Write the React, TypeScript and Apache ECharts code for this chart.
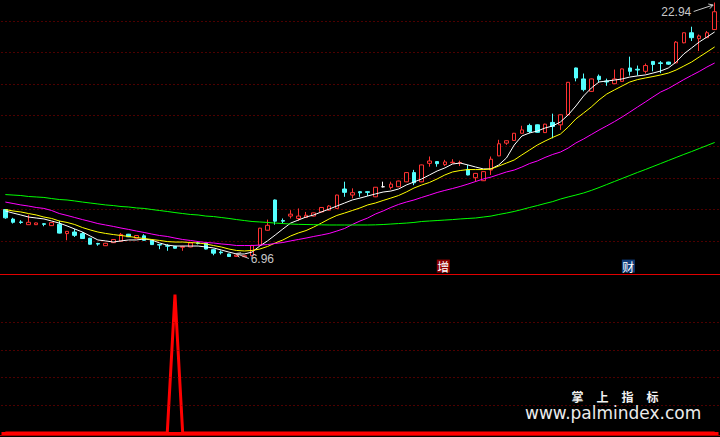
import React, { useEffect, useRef } from "react";
import * as echarts from "echarts";

// ---- daily OHLC (93 trading days) ----
const opens = [
  9.94, 9.34, 9.16, 8.99, 8.99, 9.05, 8.93, 9.02, 8.43, 8.53,
  8.43, 8.14, 7.81, 7.67, 7.86, 7.95, 8.39, 8.14, 8.29, 8.01,
  7.74, 7.67, 7.63, 7.57, 7.59, 7.85, 7.84, 7.42, 7.27, 7.15,
  7.0, 6.98, 7.04, 7.7, 8.64, 10.54, 9.25, 9.53, 9.38, 9.44,
  9.53, 9.79, 9.9, 10.01, 11.23, 10.85, 11.06, 11.06, 10.74, 11.37,
  11.33, 11.37, 11.68, 12.26, 11.68, 12.84, 12.95, 12.76, 12.88, 12.87,
  12.46, 11.94, 11.75, 12.42, 13.31, 14.11, 14.28, 14.73, 15.22, 15.26,
  14.77, 15.41, 15.26, 15.89, 18.83, 18.14, 17.36, 18.31, 18.01, 17.84,
  17.99, 18.83, 18.75, 18.62, 19.24, 19.15, 19.2, 19.15, 20.41, 21.04,
  20.67, 20.73, 21.24,
];
const closes = [
  9.42, 9.14, 9.13, 9.14, 9.1, 9.01, 9.12, 8.46, 8.57, 8.32,
  8.12, 7.76, 7.77, 7.82, 8.06, 8.38, 8.23, 8.31, 8.01, 7.74,
  7.71, 7.64, 7.51, 7.61, 7.84, 7.81, 7.46, 7.2, 7.23, 6.99,
  7.08, 7.04, 7.69, 8.77, 8.95, 9.21, 9.21, 9.65, 9.53, 9.58,
  9.73, 10.07, 10.16, 10.85, 11.02, 11.0, 10.99, 11.02, 11.34, 11.37,
  11.54, 11.73, 12.26, 11.62, 12.74, 12.99, 12.82, 12.93, 12.91, 12.89,
  12.11, 12.21, 12.32, 13.1, 14.07, 14.26, 14.73, 14.94, 14.84, 14.79,
  15.3, 15.16, 15.89, 17.93, 18.2, 17.47, 18.14, 18.1, 17.95, 18.14,
  18.77, 18.62, 18.7, 18.98, 19.05, 19.11, 19.07, 20.45, 21.04, 20.73,
  20.84, 21.04, 22.36,
];
const lows = [
  9.36, 9.06, 9.04, 8.97, 8.97, 8.89, 8.91, 8.44, 8.01, 8.22,
  8.1, 7.74, 7.67, 7.65, 7.84, 7.93, 8.21, 8.12, 7.99, 7.72,
  7.45, 7.35, 7.49, 7.35, 7.57, 7.75, 7.44, 7.07, 7.12, 6.98,
  6.97, 6.96, 7.02, 7.68, 8.62, 8.99, 9.06, 9.38, 9.23, 9.42,
  9.51, 9.77, 9.88, 9.99, 10.74, 10.64, 10.74, 10.79, 10.72, 11.33,
  11.2, 11.35, 11.66, 11.47, 11.66, 12.63, 12.63, 12.67, 12.84, 12.67,
  12.09, 11.68, 11.73, 12.11, 13.29, 14.0, 14.26, 14.71, 14.73, 14.77,
  14.75, 14.41, 14.94, 15.87, 17.99, 17.36, 17.34, 17.93, 17.71, 17.82,
  17.97, 18.35, 18.35, 18.48, 18.62, 18.51, 19.02, 19.13, 20.38, 20.52,
  19.89, 20.71, 21.22,
];
const highs = [
  9.97, 9.42, 9.27, 9.62, 9.12, 9.09, 9.15, 9.23, 8.59, 8.72,
  8.53, 8.16, 7.85, 7.85, 8.08, 8.47, 8.41, 8.33, 8.39, 8.03,
  7.77, 7.77, 7.65, 7.67, 7.87, 7.9, 7.85, 7.48, 7.37, 7.17,
  7.11, 7.06, 7.72, 8.79, 9.31, 10.57, 9.38, 9.9, 10.01, 9.79,
  9.75, 10.09, 10.22, 10.87, 11.69, 11.27, 11.1, 11.08, 11.35, 11.69,
  11.69, 11.75, 12.28, 12.43, 12.76, 13.27, 12.97, 13.06, 13.1, 13.01,
  12.74, 12.24, 12.34, 13.27, 14.32, 14.28, 14.75, 15.2, 15.33, 15.28,
  15.33, 15.96, 15.91, 17.95, 18.85, 18.48, 18.16, 18.42, 18.16, 18.73,
  18.79, 19.54, 18.98, 19.11, 19.26, 19.26, 19.22, 20.52, 21.06, 21.42,
  20.93, 21.15, 22.94,
];

// ---- moving averages ----
const ma5 = [
  9.85, 9.72, 9.6, 9.47, 9.41, 9.35, 9.22, 9.09, 8.91, 8.72,
  8.53, 8.28, 8.03, 7.97, 7.9, 7.97, 8.03, 8.03, 8.09, 8.03,
  7.84, 7.71, 7.65, 7.65, 7.65, 7.65, 7.59, 7.53, 7.4, 7.27,
  7.15, 7.15, 7.27, 7.65, 7.97, 8.34, 8.72, 9.09, 9.28, 9.47,
  9.6, 9.79, 9.97, 10.16, 10.35, 10.54, 10.66, 10.79, 10.92, 11.04,
  11.1, 11.23, 11.48, 11.67, 11.86, 12.11, 12.36, 12.55, 12.8, 12.86,
  12.74, 12.61, 12.49, 12.49, 12.74, 13.18, 13.99, 14.56, 14.75, 14.87,
  15.06, 15.19, 15.44, 15.88, 16.44, 17.07, 17.57, 17.95, 18.01, 18.07,
  18.14, 18.26, 18.33, 18.39, 18.51, 18.64, 18.83, 19.2, 19.71, 20.08,
  20.46, 20.77, 21.09,
];
const ma10 = [
  9.94, 9.85, 9.79, 9.69, 9.6, 9.47, 9.38, 9.22, 9.13, 9.0,
  8.81, 8.66, 8.53, 8.44, 8.37, 8.31, 8.25, 8.18, 8.12, 8.06,
  8.0, 7.93, 7.9, 7.9, 7.87, 7.84, 7.78, 7.68, 7.59, 7.46,
  7.37, 7.34, 7.37, 7.46, 7.62, 7.84, 8.03, 8.28, 8.47, 8.62,
  8.84, 9.09, 9.35, 9.57, 9.72, 9.88, 10.04, 10.23, 10.35, 10.51,
  10.66, 10.82, 11.04, 11.29, 11.48, 11.64, 11.86, 12.11, 12.3, 12.39,
  12.45, 12.45, 12.45, 12.49, 12.67, 12.86, 13.05, 13.37, 13.68, 13.99,
  14.24, 14.47, 14.68, 15.12, 15.63, 16.0, 16.38, 16.82, 17.19, 17.45,
  17.7, 17.95, 18.1, 18.2, 18.29, 18.39, 18.51, 18.7, 18.95, 19.2,
  19.52, 19.83, 20.15,
];
const ma20 = [
  10.41, 10.32, 10.23, 10.16, 10.07, 10.01, 9.88, 9.69, 9.57, 9.44,
  9.31, 9.19, 9.06, 8.97, 8.88, 8.78, 8.69, 8.59, 8.5, 8.4,
  8.31, 8.25, 8.15, 8.06, 8.0, 7.93, 7.87, 7.84, 7.78, 7.74,
  7.68, 7.68, 7.68, 7.71, 7.74, 7.81, 7.87, 7.97, 8.06, 8.15,
  8.25, 8.34, 8.44, 8.59, 8.75, 9.0, 9.22, 9.41, 9.66, 9.85,
  10.07, 10.26, 10.41, 10.54, 10.7, 10.85, 11.01, 11.14, 11.26, 11.39,
  11.54, 11.7, 11.86, 11.98, 12.14, 12.3, 12.42, 12.61, 12.83, 12.99,
  13.21, 13.4, 13.55, 13.8, 14.12, 14.37, 14.65, 14.93, 15.19, 15.46,
  15.75, 16.06, 16.38, 16.69, 17.01, 17.32, 17.54, 17.82, 18.1, 18.36,
  18.61, 18.89, 19.14,
];
const ma60 = [
  10.88, 10.85, 10.82, 10.76, 10.73, 10.7, 10.63, 10.57, 10.54, 10.48,
  10.41, 10.35, 10.29, 10.23, 10.19, 10.13, 10.1, 10.04, 10.01, 9.94,
  9.88, 9.82, 9.75, 9.69, 9.63, 9.6, 9.53, 9.5, 9.44, 9.38,
  9.31, 9.25, 9.19, 9.16, 9.13, 9.09, 9.06, 9.03, 9.01, 9.0,
  8.99, 8.98, 8.97, 8.97, 8.97, 8.97, 8.97, 8.97, 8.98, 9.0,
  9.03, 9.06, 9.09, 9.13, 9.19, 9.22, 9.25, 9.28, 9.31, 9.35,
  9.38, 9.41, 9.47, 9.53, 9.63, 9.72, 9.82, 9.94, 10.07, 10.19,
  10.32, 10.44, 10.6, 10.73, 10.85, 10.98, 11.14, 11.32, 11.51, 11.7,
  11.89, 12.08, 12.27, 12.45, 12.64, 12.83, 13.02, 13.21, 13.4, 13.58,
  13.77, 13.96, 14.15,
];

// ---- lower indicator panel ----
const signal = [
  0, 0, 0, 0, 0, 0, 0, 0, 0, 0,
  0, 0, 0, 0, 0, 0, 0, 0, 0, 0,
  0, 0, 5, 0, 0, 0, 0, 0, 0, 0,
  0, 0, 0, 0, 0, 0, 0, 0, 0, 0,
  0, 0, 0, 0, 0, 0, 0, 0, 0, 0,
  0, 0, 0, 0, 0, 0, 0, 0, 0, 0,
  0, 0, 0, 0, 0, 0, 0, 0, 0, 0,
  0, 0, 0, 0, 0, 0, 0, 0, 0, 0,
  0, 0, 0, 0, 0, 0, 0, 0, 0, 0,
  0, 0, 0,
];

// horizontal reference levels (equal divisions of each panel)
const priceGridLevels = [7.933, 9.942, 11.889, 13.898, 15.845, 17.791, 19.801, 21.747];
const signalGridLevels = [1, 2, 3, 4];

const highMark = { day: 92, price: 22.94, text: "22.94" };
const lowMark = { day: 31, price: 6.96, text: "6.96" };
const tags = [
  { day: 57, text: "增", bg: "#8e0000" },
  { day: 81, text: "财", bg: "#0f3c7a" },
];
const brandChars = ["掌", "上", "指", "标"];
const brandUrl = "www.palmindex.com";

export default function App() {
  const ref = useRef<HTMLDivElement>(null);

  useEffect(() => {
    if (!ref.current) return;
    const chart = echarts.init(ref.current, null, { renderer: "svg" });
    const days = opens.map((_, i) => `D${i + 1}`);
    const candleData = opens.map((o, i) => {
      const item: any = { value: [o, closes[i], lows[i], highs[i]] };
      if (o === closes[i]) {
        item.itemStyle = { color: "#ffffff", color0: "#ffffff", borderColor: "#ffffff", borderColor0: "#ffffff" };
      }
      return item;
    });
    const dotted = { type: [1, 3], color: "#9a0000", width: 1 };

    const maLine = (name: string, data: number[], color: string) => ({
      name,
      type: "line",
      xAxisIndex: 0,
      yAxisIndex: 0,
      data,
      symbol: "none",
      showSymbol: false,
      lineStyle: { width: 1, color },
      z: 4,
      silent: true,
    });

    chart.setOption({
      animation: false,
      backgroundColor: "#000000",
      grid: [
        { left: 1.5, width: 717, top: 0, height: 274 },
        { left: 1.5, width: 717, top: 274, height: 161 },
      ],
      xAxis: [
        { type: "category", data: days, gridIndex: 0, boundaryGap: true, show: false },
        { type: "category", data: days, gridIndex: 1, boundaryGap: true, show: false },
      ],
      yAxis: [
        { type: "value", gridIndex: 0, min: 5.893, max: 23.097, show: false, splitLine: { show: false } },
        { type: "value", gridIndex: 1, min: -0.072, max: 5.74, show: false, splitLine: { show: false } },
      ],
      series: [
        {
          type: "candlestick",
          xAxisIndex: 0,
          yAxisIndex: 0,
          data: candleData,
          barWidth: 4,
          silent: true,
          z: 3,
          itemStyle: {
            color: "#000000",
            color0: "#54ffff",
            borderColor: "#ff3232",
            borderColor0: "#54ffff",
            borderWidth: 1,
          },
          markLine: {
            silent: true,
            symbol: ["none", "none"],
            label: { show: false },
            lineStyle: dotted,
            z: 1,
            data: priceGridLevels.map((v) => ({ yAxis: v })),
          },
        },
        maLine("MA5", ma5, "#ffffff"),
        maLine("MA10", ma10, "#ffff00"),
        maLine("MA20", ma20, "#ff00ff"),
        maLine("MA60", ma60, "#00ff00"),
        {
          type: "line",
          xAxisIndex: 1,
          yAxisIndex: 1,
          data: signal,
          symbol: "none",
          showSymbol: false,
          silent: true,
          lineStyle: { width: 3, color: "#ff0000" },
          z: 4,
          markLine: {
            silent: true,
            symbol: ["none", "none"],
            label: { show: false },
            lineStyle: dotted,
            data: [
              ...signalGridLevels.map((v) => ({ yAxis: v })),
              { yAxis: 0, lineStyle: { type: "solid", width: 3, color: "#ff0000" } },
            ],
          },
        },
      ],
    });

    const hp = chart.convertToPixel({ gridIndex: 0 }, [highMark.day, highMark.price]) as number[];
    const lp = chart.convertToPixel({ gridIndex: 0 }, [lowMark.day, lowMark.price]) as number[];
    const labelFont = '12px "Liberation Sans", Arial, sans-serif';
    const grey = "#c8c8c8";

    const arrow = (tx: number, ty: number, fx: number, fy: number) => {
      const dx = tx - fx, dy = ty - fy;
      const len = Math.hypot(dx, dy);
      const ux = -dx / len, uy = -dy / len;
      const c = Math.cos(Math.PI / 6), s = Math.sin(Math.PI / 6);
      const a1 = [tx + 5 * (c * ux - s * uy), ty + 5 * (s * ux + c * uy)];
      const a2 = [tx + 5 * (c * ux + s * uy), ty + 5 * (-s * ux + c * uy)];
      return [
        { type: "line", shape: { x1: fx, y1: fy, x2: tx, y2: ty }, style: { stroke: grey, lineWidth: 1 }, z: 20 },
        { type: "polyline", shape: { points: [a1, [tx, ty], a2] }, style: { stroke: grey, lineWidth: 1, fill: null }, z: 20 },
      ];
    };

    const tagEls = tags.map((t) => {
      const p = chart.convertToPixel({ gridIndex: 0 }, [t.day, 6.39]) as number[];
      return {
        type: "text",
        x: p[0] - 1.5,
        y: p[1],
        z: 20,
        style: {
          text: t.text,
          fill: "#ffffff",
          font: '12px "Noto Sans CJK SC", sans-serif',
          align: "center",
          verticalAlign: "middle",
          backgroundColor: t.bg,
          padding: [1, 0.5, 0, 0.5],
          lineHeight: 12,
        },
      };
    });

    const brandEls = brandChars.map((ch, i) => ({
      type: "text",
      x: 577.5 + i * 25,
      y: 396,
      z: 20,
      style: {
        text: ch,
        fill: "#f2f2f2",
        font: 'bold 12px "Noto Sans CJK SC", sans-serif',
        align: "center",
        verticalAlign: "middle",
        lineHeight: 12,
      },
    }));

    chart.setOption({
      graphic: [
        { type: "line", shape: { x1: 0, y1: 274.5, x2: 720, y2: 274.5 }, style: { stroke: "#e00000", lineWidth: 1 }, z: 10 },
        { type: "line", shape: { x1: 0, y1: 435.5, x2: 720, y2: 435.5 }, style: { stroke: "#b00000", lineWidth: 1 }, z: 10 },
        {
          type: "text",
          x: hp[0] - 23.4,
          y: hp[1] + 9.5,
          z: 20,
          style: { text: highMark.text, fill: grey, font: labelFont, align: "right", verticalAlign: "middle" },
        },
        ...arrow(hp[0] - 1.5, hp[1] + 2.5, hp[0] - 21, hp[1] + 9),
        {
          type: "text",
          x: lp[0] + 6.3,
          y: lp[1] + 1.5,
          z: 20,
          style: { text: lowMark.text, fill: grey, font: labelFont, align: "left", verticalAlign: "middle" },
        },
        ...arrow(lp[0] - 8.2, lp[1] - 3.5, lp[0] + 4.5, lp[1] + 1.5),
        ...tagEls,
        ...brandEls,
        {
          type: "text",
          x: 525,
          y: 413,
          z: 20,
          style: {
            text: brandUrl,
            fill: "#ececec",
            font: '17px "DejaVu Sans", sans-serif',
            align: "left",
            verticalAlign: "middle",
            lineHeight: 14,
          },
        },
      ],
    });

    return () => chart.dispose();
  }, []);

  return (
    <div
      ref={ref}
      style={{ position: "absolute", left: 0, top: 0, width: 720, height: 437, background: "#000" }}
    />
  );
}
